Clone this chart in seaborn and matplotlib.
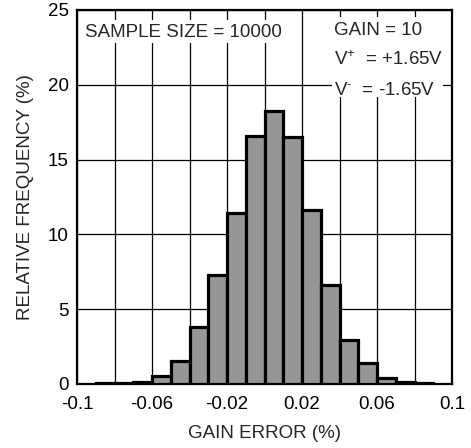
import numpy as np
import pandas as pd
import matplotlib
matplotlib.use("Agg")
import matplotlib.pyplot as plt
import seaborn as sns
from matplotlib.patches import Rectangle

# --- DATA ---
bin_edges = [-0.09, -0.08, -0.07, -0.06, -0.05, -0.04, -0.03, -0.02, -0.01, 0.0,
             0.01, 0.02, 0.03, 0.04, 0.05, 0.06, 0.07, 0.08, 0.09]
rel_freq = [0.05, 0.05, 0.1, 0.53, 1.56, 3.8, 7.3, 11.45, 16.55, 18.27,
            16.5, 11.64, 6.6, 2.94, 1.43, 0.38, 0.1, 0.05]
x_ticks = [-0.1, -0.06, -0.02, 0.02, 0.06, 0.1]
x_tick_labels = ["-0.1", "-0.06", "-0.02", "0.02", "0.06", "0.1"]
y_ticks = [0, 5, 10, 15, 20, 25]

df = pd.DataFrame({
    "center": [(a + b) / 2 for a, b in zip(bin_edges[:-1], bin_edges[1:])],
    "freq": rel_freq,
})

FS = 13.5

# --- STYLE ---
sns.set_style("white")
plt.rcParams["font.family"] = ["Liberation Sans", "DejaVu Sans"]
plt.rcParams["mathtext.fontset"] = "custom"
plt.rcParams["mathtext.rm"] = "Liberation Sans"
plt.rcParams["mathtext.it"] = "Liberation Sans"

fig = plt.figure(figsize=(4.71, 4.48), dpi=100)
ax = fig.add_axes([0.1635, 0.1429, 0.7962, 0.8348])

sns.histplot(data=df, x="center", weights="freq", bins=bin_edges,
             color="#969696", edgecolor="black", linewidth=2.3,
             alpha=1, ax=ax, zorder=3)

ax.set_xlim(-0.1, 0.1)
ax.set_ylim(0, 25)
ax.set_xticks(np.arange(-0.1, 0.1001, 0.02), minor=True)
ax.set_xticks(x_ticks)
ax.set_xticklabels(x_tick_labels)
ax.set_yticks(y_ticks)
ax.grid(True, which="both", axis="x", color="black", linewidth=0.9, zorder=0)
ax.grid(True, which="major", axis="y", color="black", linewidth=0.9, zorder=0)
ax.set_axisbelow(True)
ax.tick_params(axis="both", which="both", length=0, labelsize=FS, colors="black")
ax.tick_params(axis="x", pad=9)
ax.tick_params(axis="y", pad=6)

for s in ax.spines.values():
    s.set_visible(True)
    s.set_color("black")
    s.set_linewidth(1.6)

ax.set_xlabel("GAIN ERROR (%)", fontsize=FS, labelpad=8)
ax.set_ylabel("RELATIVE FREQUENCY (%)", fontsize=FS, labelpad=10)

# white boxes behind the annotations
ax.add_patch(Rectangle((0.013, 0.912), 0.56, 0.062, transform=ax.transAxes,
                       facecolor="white", edgecolor="none", zorder=1.5))
ax.add_patch(Rectangle((0.68, 0.767), 0.296, 0.214, transform=ax.transAxes,
                       facecolor="white", edgecolor="none", zorder=1.5))

ax.text(0.021, 0.928, "SAMPLE SIZE = 10000", transform=ax.transAxes,
        fontsize=FS, va="baseline", ha="left", zorder=4)
ax.text(0.685, 0.933, "GAIN = 10", transform=ax.transAxes,
        fontsize=FS, va="baseline", ha="left", zorder=4)
ax.text(0.685, 0.853, r"V$^{\text{+}}$  = +1.65V", transform=ax.transAxes,
        fontsize=FS, va="baseline", ha="left", zorder=4)
ax.text(0.685, 0.773, r"V$^{\text{-}}$  = -1.65V", transform=ax.transAxes,
        fontsize=FS, va="baseline", ha="left", zorder=4)

fig.savefig("out.png", dpi=100)
